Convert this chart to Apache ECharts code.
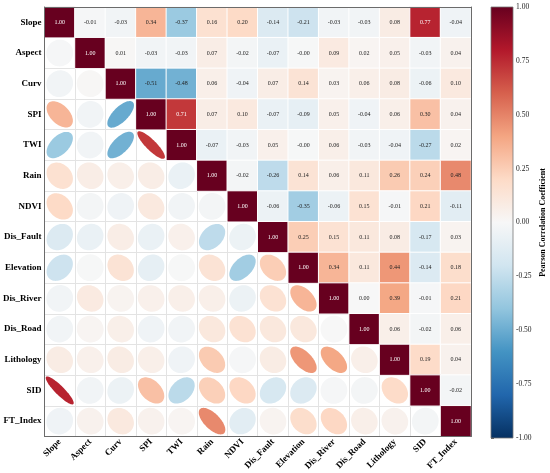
<!DOCTYPE html>
<html>
<head>
<meta charset="utf-8">
<script src="https://cdn.jsdelivr.net/npm/echarts@6/dist/echarts.min.js"></script>
<style>
html,body{margin:0;padding:0;background:#fff;}
#chart{width:550px;height:473px;}
</style>
</head>
<body>
<div id="chart"></div>
<script>
// ---- data ----
const labels = ['Slope','Aspect','Curv','SPI','TWI','Rain','NDVI','Dis_Fault','Elevation','Dis_River','Dis_Road','Lithology','SID','FT_Index'];
// upper triangle rows, each starting at the diagonal
const rSlope     = [1.00, -0.01, -0.03, 0.34, -0.37, 0.16, 0.20, -0.14, -0.21, -0.03, -0.03, 0.08, 0.77, -0.04];
const rAspect    = [1.00, 0.01, -0.03, -0.03, 0.07, -0.02, -0.07, -0.004, 0.09, 0.02, 0.05, -0.03, 0.04];
const rCurv      = [1.00, -0.51, -0.48, 0.06, -0.04, 0.07, 0.14, 0.03, 0.06, 0.08, -0.06, 0.10];
const rSPI       = [1.00, 0.71, 0.07, 0.10, -0.07, -0.09, 0.05, -0.04, 0.06, 0.30, 0.04];
const rTWI       = [1.00, -0.07, -0.03, 0.05, -0.004, 0.06, -0.03, -0.04, -0.27, 0.02];
const rRain      = [1.00, -0.02, -0.26, 0.14, 0.06, 0.11, 0.26, 0.24, 0.48];
const rNDVI      = [1.00, -0.06, -0.35, -0.06, 0.15, -0.01, 0.21, -0.11];
const rDisFault  = [1.00, 0.25, 0.15, 0.11, 0.08, -0.17, 0.03];
const rElevation = [1.00, 0.34, 0.11, 0.44, -0.14, 0.18];
const rDisRiver  = [1.00, 0.00, 0.39, -0.01, 0.21];
const rDisRoad   = [1.00, 0.06, -0.02, 0.06];
const rLithology = [1.00, 0.19, 0.04];
const rSID       = [1.00, -0.02];
const rFTIndex   = [1.00];
const colorbarTicks = [-1, -0.75, -0.5, -0.25, 0, 0.25, 0.5, 0.75, 1];
const cmap = ['#053061','#2166ac','#4393c3','#92c5de','#d1e5f0','#f7f7f7','#fddbc7','#f4a582','#d6604d','#b2182b','#67001f'];

const upperRows = [rSlope,rAspect,rCurv,rSPI,rTWI,rRain,rNDVI,rDisFault,rElevation,rDisRiver,rDisRoad,rLithology,rSID,rFTIndex];
const upperData = [];
const lowerData = [];
upperRows.forEach((row, i) => {
  row.forEach((v, k) => {
    const j = i + k;
    upperData.push([j, i, v]);
    if (j !== i) lowerData.push([i, j, v]); // mirrored cell: column i, row j
  });
});

const FONT = 'Liberation Serif';
const frameLine = {show: true, lineStyle: {color: '#6b6b6b', width: 1}};

const chart = echarts.init(document.getElementById('chart'), null, {renderer: 'canvas'});
chart.setOption({
  animation: false,
  backgroundColor: '#fff',
  grid: [
    {left: 40, top: 7, width: 431, height: 431},
    {left: 491, top: 7, width: 22, height: 431}
  ],
  visualMap: {
    show: false, type: 'continuous', min: -1, max: 1, dimension: 2,
    seriesIndex: [0, 1], inRange: {color: cmap}
  },
  xAxis: [
    {type: 'category', data: labels, gridIndex: 0, position: 'bottom',
     axisLine: {show: false}, axisTick: {show: false},
     axisLabel: {rotate: 45, interval: 0, margin: 4, fontFamily: FONT, fontWeight: 'bold', fontSize: 9, color: '#000'},
     splitLine: {show: true, interval: 0, lineStyle: {color: '#e3e3e3', width: 1}}},
    {type: 'category', data: labels, gridIndex: 0, position: 'top', z: 10,
     axisLine: frameLine, axisTick: {show: false}, axisLabel: {show: false}, splitLine: {show: false}},
    {type: 'category', data: labels, gridIndex: 0, position: 'bottom', z: 10,
     axisLine: frameLine, axisTick: {show: false}, axisLabel: {show: false}, splitLine: {show: false}},
    {type: 'value', gridIndex: 1, min: 0, max: 1, show: false}
  ],
  yAxis: [
    {type: 'category', data: labels, gridIndex: 0, inverse: true, position: 'left',
     axisLine: {show: false}, axisTick: {show: false},
     axisLabel: {interval: 0, margin: 3, fontFamily: FONT, fontWeight: 'bold', fontSize: 9, color: '#000'},
     splitLine: {show: true, interval: 0, lineStyle: {color: '#e3e3e3', width: 1}}},
    {type: 'category', data: labels, gridIndex: 0, inverse: true, position: 'right', z: 10,
     axisLine: frameLine, axisTick: {show: false}, axisLabel: {show: false}, splitLine: {show: false}},
    {type: 'category', data: labels, gridIndex: 0, inverse: true, position: 'left', z: 10,
     axisLine: frameLine, axisTick: {show: false}, axisLabel: {show: false}, splitLine: {show: false}},
    {type: 'value', gridIndex: 1, min: -1, max: 1, interval: 0.25, position: 'right',
     axisLine: {show: false},
     axisTick: {show: true, length: 3, lineStyle: {color: '#333', width: 0.8}},
     axisLabel: {margin: 3, fontFamily: FONT, fontSize: 7.5, color: '#222', formatter: v => v.toFixed(2)},
     splitLine: {show: false},
     name: 'Pearson Correlation Coefficient', nameLocation: 'middle', nameRotate: 90, nameGap: 26,
     nameTextStyle: {fontFamily: FONT, fontWeight: 'bold', fontSize: 8, color: '#000'}}
  ],
  series: [
    {
      type: 'heatmap', xAxisIndex: 0, yAxisIndex: 0, data: upperData,
      itemStyle: {borderColor: '#fff', borderWidth: 1},
      label: {
        show: true,
        formatter: p => (Math.abs(p.value[2]) > 0.6 ? '{w|' : '{k|') + p.value[2].toFixed(2) + '}',
        rich: {
          w: {color: '#fff', fontFamily: FONT, fontSize: 6},
          k: {color: '#222', fontFamily: FONT, fontSize: 6}
        }
      },
      emphasis: {disabled: true}
    },
    {
      type: 'custom', xAxisIndex: 0, yAxisIndex: 0, data: lowerData,
      renderItem: function (params, api) {
        const c = api.coord([api.value(0), api.value(1)]);
        const sz = api.size([1, 1]);
        const cell = Math.min(sz[0], sz[1]);
        const r = api.value(2);
        const ar = Math.abs(r);
        const a = cell * (0.44 + 0.25 * ar);
        const b = cell * (0.44 - 0.38 * ar);
        const s = r >= 0 ? 1 : -1;
        const k = Math.SQRT1_2;
        const dx = k, dy = s * k, nx = -s * k, ny = k;
        const pts = [];
        for (let t = 0; t < 72; t++) {
          const th = t / 72 * Math.PI * 2;
          const u = a * Math.cos(th), v = b * Math.sin(th);
          pts.push([c[0] + u * dx + v * nx, c[1] + u * dy + v * ny]);
        }
        return {type: 'polygon', shape: {points: pts}, style: {fill: api.visual('color')}};
      }
    },
    {
      type: 'custom', xAxisIndex: 3, yAxisIndex: 3, data: [[0, 1, 1, -1]],
      renderItem: function (params, api) {
        const p0 = api.coord([api.value(0), api.value(1)]);
        const p1 = api.coord([api.value(2), api.value(3)]);
        const stops = cmap.slice().reverse().map((col, i) => ({offset: i / (cmap.length - 1), color: col}));
        return {
          type: 'rect',
          shape: {x: p0[0], y: p0[1], width: p1[0] - p0[0], height: p1[1] - p0[1]},
          style: {fill: new echarts.graphic.LinearGradient(0, 0, 0, 1, stops), stroke: '#777', lineWidth: 0.8}
        };
      }
    }
  ]
});
</script>
</body>
</html>
